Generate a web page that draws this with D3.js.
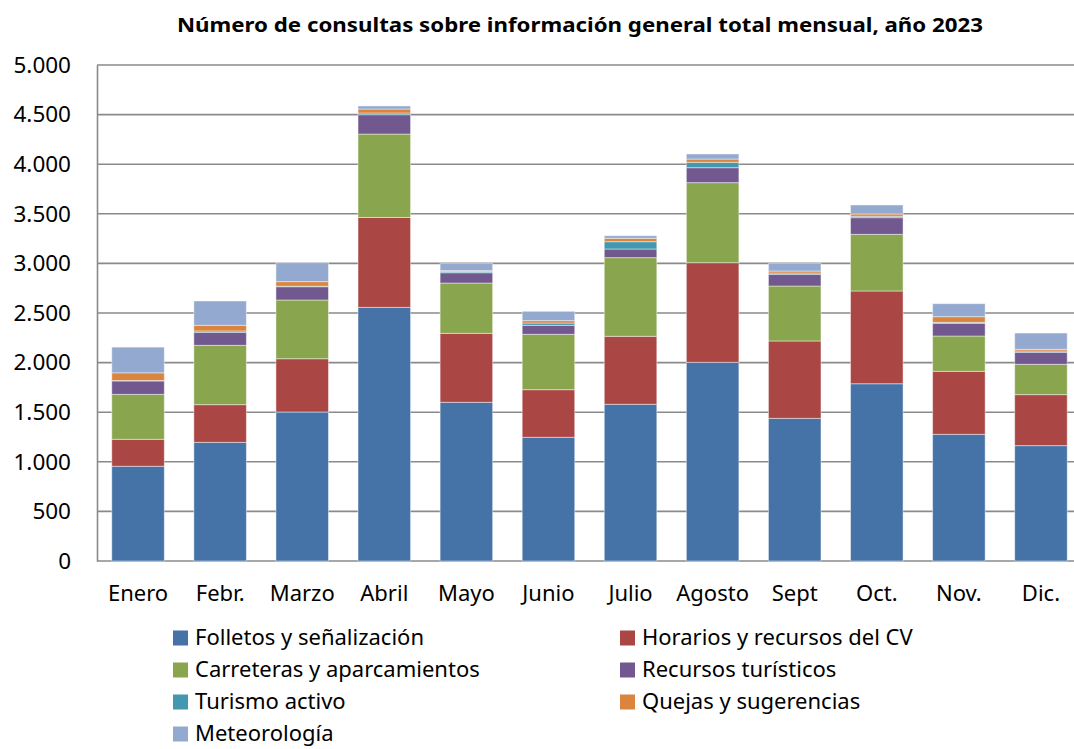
<!DOCTYPE html>
<html>
<head>
<meta charset="utf-8">
<script src="https://cdn.jsdelivr.net/npm/d3@7"></script>
<style>
  body { margin: 0; background: #fff; }
  svg { display: block; font-family: "Noto Sans", sans-serif; }
</style>
</head>
<body>
<div id="chart"></div>
<script>
// Meses
const meses = ["Enero", "Febr.", "Marzo", "Abril", "Mayo", "Junio", "Julio", "Agosto", "Sept", "Oct.", "Nov.", "Dic."];

// Series (número de consultas por mes)
const folletos   = [955, 1196, 1502, 2557, 1600, 1247, 1580, 2003, 1438, 1787, 1277, 1163];
const horarios   = [272, 380, 537, 906, 695, 480, 685, 1004, 780, 935, 635, 514];
const carreteras = [453, 598, 592, 841, 507, 558, 793, 807, 554, 571, 356, 306];
const recursos   = [135, 131, 134, 195, 104, 91, 87, 151, 118, 168, 128, 121];
const turismo    = [5, 14, 5, 17, 11, 23, 74, 54, 13, 14, 10, 13];
const quejas     = [77, 57, 46, 40, 10, 24, 34, 33, 20, 23, 57, 17];
const meteo      = [259, 245, 191, 31, 74, 94, 26, 51, 78, 91, 131, 164];

const yTicks = [0, 500, 1000, 1500, 2000, 2500, 3000, 3500, 4000, 4500, 5000];

const series = [
  { key: "Folletos y señalización", values: folletos, color: "#4572A7" },
  { key: "Horarios y recursos del CV", values: horarios, color: "#AA4643" },
  { key: "Carreteras y aparcamientos", values: carreteras, color: "#89A54E" },
  { key: "Recursos turísticos", values: recursos, color: "#71588F" },
  { key: "Turismo activo", values: turismo, color: "#4198AF" },
  { key: "Quejas y sugerencias", values: quejas, color: "#DB843D" },
  { key: "Meteorología", values: meteo, color: "#93A9CF" }
];

const width = 1074, height = 749;
const margin = { left: 97, right: -8, top: 65, bottom: 188 };

const svg = d3.select("#chart").append("svg")
  .attr("width", width)
  .attr("height", height);

// Tabla para d3.stack
const tabla = meses.map((m, i) => {
  const fila = { mes: m };
  series.forEach(s => { fila[s.key] = s.values[i]; });
  return fila;
});

const stack = d3.stack().keys(series.map(s => s.key));
const capas = stack(tabla);

const x = d3.scaleBand()
  .domain(meses)
  .range([margin.left, width - margin.right])
  .paddingInner(0.36)
  .paddingOuter(0.18);

const y = d3.scaleLinear()
  .domain([0, 5000])
  .range([height - margin.bottom, margin.top]);

// Título
svg.append("text")
  .attr("x", 580)
  .attr("y", 32)
  .attr("text-anchor", "middle")
  .attr("textLength", 806)
  .attr("lengthAdjust", "spacingAndGlyphs")
  .style("font-weight", "bold")
  .style("font-size", "19.5px")
  .style("fill", "#000")
  .text("Número de consultas sobre información general total mensual, año 2023");

// Líneas de división
svg.append("g")
  .selectAll("line")
  .data(yTicks)
  .join("line")
  .attr("x1", margin.left)
  .attr("x2", width)
  .attr("y1", d => y(d))
  .attr("y2", d => y(d))
  .attr("stroke", "#8a8a8a")
  .attr("stroke-width", 1.6);

// Eje Y
const ejeY = svg.append("g")
  .attr("transform", `translate(${margin.left},0)`)
  .call(d3.axisLeft(y)
    .tickValues(yTicks)
    .tickSize(0)
    .tickPadding(26)
    .tickFormat(d => d3.format(",")(d).replace(/,/g, ".")));
ejeY.select(".domain").attr("stroke", "#8a8a8a").attr("stroke-width", 1.6);
ejeY.selectAll("text")
  .style("font-size", "22.5px")
  .style("font-family", "'Noto Sans', sans-serif")
  .attr("fill", "#000");

// Barras apiladas
svg.append("g")
  .selectAll("g")
  .data(capas)
  .join("g")
  .attr("fill", (d, i) => series[i].color)
  .selectAll("rect")
  .data(d => d)
  .join("rect")
  .attr("x", d => x(d.data.mes))
  .attr("width", x.bandwidth())
  .attr("y", d => y(d[1]))
  .attr("height", d => y(d[0]) - y(d[1]))
  .attr("stroke", "#ffffff")
  .attr("stroke-opacity", 0.45)
  .attr("stroke-width", 1);

// Eje X
const ejeX = svg.append("g")
  .attr("transform", `translate(0,${height - margin.bottom})`)
  .call(d3.axisBottom(x).tickSize(0).tickPadding(24));
ejeX.select(".domain").remove();
ejeX.selectAll("text")
  .style("font-size", "22px")
  .style("font-family", "'Noto Sans', sans-serif")
  .attr("fill", "#000");

// Leyenda
const leyenda = svg.append("g");
const colX = [173, 620];
series.forEach((s, i) => {
  const col = i % 2;
  const row = Math.floor(i / 2);
  const g = leyenda.append("g")
    .attr("transform", `translate(${colX[col]},${638 + row * 32})`);
  g.append("rect")
    .attr("x", 0)
    .attr("y", -7.5)
    .attr("width", 15)
    .attr("height", 15)
    .attr("fill", s.color);
  g.append("text")
    .attr("x", 22)
    .attr("y", 0)
    .attr("dy", "0.33em")
    .style("font-size", "22px")
    .style("fill", "#000")
    .text(s.key);
});
</script>
</body>
</html>
